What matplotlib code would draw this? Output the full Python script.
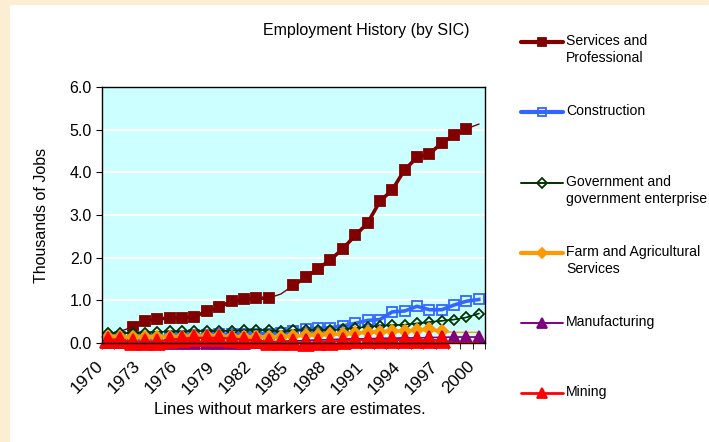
import matplotlib
matplotlib.use("Agg")
import matplotlib.pyplot as plt
import numpy as np
from matplotlib.lines import Line2D
from matplotlib.patches import Rectangle
from matplotlib.transforms import ScaledTranslation

plt.rcParams['font.family'] = ['Liberation Sans', 'DejaVu Sans']

# данные (тысячи рабочих мест)
years = list(range(1970, 2001))
tick_years = list(range(1970, 2001, 3))

services = [0.19, 0.27, 0.38, 0.52, 0.56, 0.59, 0.59, 0.62, 0.74, 0.84, 0.98,
            1.02, 1.05, 1.05, 1.15, 1.35, 1.54, 1.74, 1.95, 2.21, 2.52,
            2.81, 3.32, 3.59, 4.06, 4.35, 4.43, 4.69, 4.87, 5.02, 5.13]
construction = [0.12, 0.13, 0.14, 0.15, 0.15, 0.16, 0.17, 0.18, 0.19, 0.20, 0.21,
                0.21, 0.22, 0.22, 0.24, 0.28, 0.33, 0.34, 0.36, 0.40, 0.46,
                0.53, 0.55, 0.73, 0.75, 0.86, 0.78, 0.78, 0.89, 0.98, 1.02]
government = [0.23, 0.23, 0.24, 0.24, 0.26, 0.27, 0.27, 0.28, 0.28, 0.28, 0.29,
              0.30, 0.31, 0.30, 0.27, 0.30, 0.30, 0.30, 0.30, 0.32, 0.35,
              0.38, 0.40, 0.42, 0.43, 0.46, 0.49, 0.52, 0.55, 0.60, 0.69]
farm = [0.15, 0.15, 0.14, 0.14, 0.15, 0.15, 0.15, 0.16, 0.16, 0.16, 0.15,
        0.14, 0.14, 0.14, 0.15, 0.16, 0.18, 0.19, 0.20, 0.21, 0.23,
        0.25, 0.26, 0.28, 0.28, 0.30, 0.32, 0.27, 0.25, 0.25, 0.25]
manufacturing = [0.03, 0.03, 0.02, 0.02, 0.01, 0.0, 0.0, 0.0, 0.0, 0.0, 0.0,
                 0.0, 0.02, 0.03, 0.04, 0.05, 0.06, 0.07, 0.08, 0.09, 0.10,
                 0.10, 0.11, 0.11, 0.12, 0.12, 0.13, 0.13, 0.14, 0.14, 0.14]
mining = [0.08, 0.08, 0.03, 0.03, 0.03, 0.08, 0.10, 0.12, 0.12, 0.12, 0.10,
          0.08, 0.06, 0.03, 0.02, 0.02, 0.0, 0.02, 0.03, 0.05, 0.07,
          0.07, 0.07, 0.07, 0.07, 0.07, 0.07, 0.06, 0.01, 0.01, 0.01]

# годы-оценки (линия без маркеров)
services_est = [1970, 1971, 1984, 2000]
construction_est = []
government_est = []
farm_est = [1998, 1999, 2000]
manufacturing_est = []
mining_est = [1998, 1999, 2000]

names = ["Services and\nProfessional", "Construction",
         "Government and\ngovernment enterprise", "Farm and Agricultural\nServices",
         "Manufacturing", "Mining"]
series = [services, construction, government, farm, manufacturing, mining]
estimates = [services_est, construction_est, government_est, farm_est,
             manufacturing_est, mining_est]
# цвет, толщина, маркер, размер, заливка
styles = [("#800000", 2.6, "s", 6.5, "#800000"),
          ("#3366FF", 2.6, "s", 7, "none"),
          ("#003300", 0.9, "D", 5.5, "none"),
          ("#FF9900", 2.6, "D", 6, "#FF9900"),
          ("#800080", 0.9, "^", 9, "#800080"),
          ("#FF0000", 1.6, "^", 11, "#FF0000")]

fig = plt.figure(figsize=(7.09, 4.42), dpi=100, facecolor="#FCEED2")
fig.add_artist(Rectangle((10 / 709, 0), 1, 1 - 5 / 442, transform=fig.transFigure,
                         facecolor="white", edgecolor="none", zorder=0))
ax = fig.add_axes([101.7 / 709, 1 - 343 / 442, 383.3 / 709, 256 / 442])
ax.set_facecolor("#CCFFFF")

x = np.arange(len(years))
for vals, est, (c, lw, m, ms, fc) in zip(series, estimates, styles):
    vals = np.array(vals, dtype=float)
    ax.plot(x, vals, color=c, lw=1.0, clip_on=False)          # оценки - тонкая линия
    real = vals.copy()
    for y in est:
        real[years.index(y)] = np.nan
    ax.plot(x, real, color=c, lw=lw, marker=m, ms=ms, mfc=fc, mec=c,
            mew=1.3, clip_on=False)

ax.set_xlim(-0.5, len(years) - 0.5)
ax.set_ylim(0, 6)
ax.set_yticks(np.arange(0, 7, 1))
ax.set_yticklabels([f"{v:.1f}" for v in range(7)], fontsize=11.5)
ax.yaxis.grid(True, color="white", lw=1.5)
ax.set_axisbelow(True)
ax.tick_params(axis="y", direction="out", length=4, pad=3)

ax.set_xticks([years.index(y) for y in tick_years])
ax.set_xticklabels([str(y) for y in tick_years], fontsize=12.5, rotation=45,
                   ha="right", va="center", rotation_mode="anchor")
ax.set_xticks(np.arange(-0.5, len(years)), minor=True)
ax.tick_params(axis="x", which="major", length=0, pad=15)
ax.tick_params(axis="x", which="minor", direction="out", length=4)
for lbl in ax.get_xticklabels():
    lbl.set_transform(lbl.get_transform() + ScaledTranslation(-7 / 100, 0, fig.dpi_scale_trans))
for s in ax.spines.values():
    s.set_color("black")
    s.set_linewidth(1)

fig.text(366 / 709, 1 - 31 / 442, "Employment History (by SIC)", fontsize=11.5,
         ha="center", va="center")
fig.text(42 / 709, 1 - 215 / 442, "Thousands of Jobs", fontsize=11.5,
         rotation=90, ha="center", va="center")
fig.text(290 / 709, 1 - 410 / 442, "Lines without markers are estimates.",
         fontsize=12, ha="center", va="center")

# легенда справа
leg_y = [42, 112, 183, 253, 323, 393]
for name, (c, lw, m, ms, fc), yp in zip(names, styles, leg_y):
    yf = 1 - yp / 442
    fig.add_artist(Line2D([521 / 709, 542 / 709, 563 / 709], [yf, yf, yf],
                          transform=fig.transFigure, color=c, lw=max(lw, 1.0) + 0.4,
                          marker=m, ms=min(ms, 8) * 0.85, mfc=fc, mec=c, mew=1.3,
                          markevery=[1], solid_capstyle="round"))
    fig.text(566 / 709, 1 - (yp - 8) / 442, name, fontsize=10.1, ha="left", va="top",
             linespacing=1.3)

fig.savefig("out.png", dpi=100, facecolor=fig.get_facecolor())
